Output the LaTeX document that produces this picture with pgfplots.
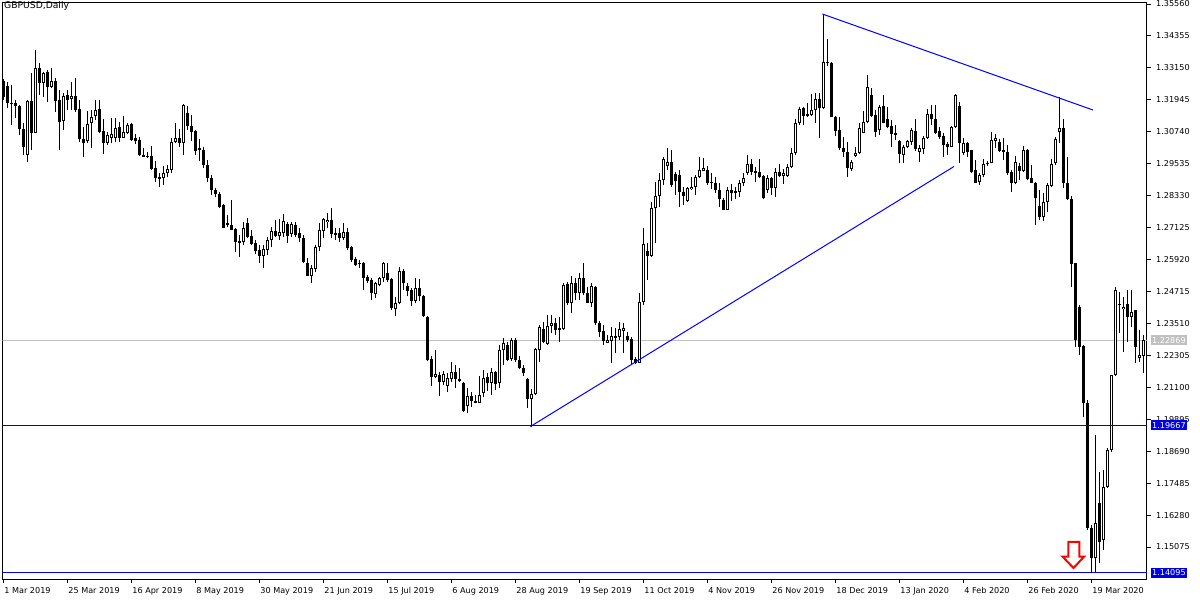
\documentclass[border=0pt]{standalone}
\usepackage{fontspec}
\setmainfont{DejaVu Sans}
\usepackage{pgfplots}
\usepackage{pgfplotstable}
\pgfplotsset{compat=1.18}
\definecolor{mtgray}{RGB}{192,192,192}
\definecolor{mtblue}{RGB}{0,0,230}
\definecolor{trendblue}{RGB}{0,0,255}
\definecolor{arrowred}{RGB}{255,0,0}
\newcommand\lf{\fontsize{8.1}{9.7}\selectfont}
\pgfplotsset{candle/.style={only marks, mark=*, mark size=0pt, mark options={draw=none, fill=none}}}
\pgfplotstableread{
i o h l c
0 1.3266 1.3273 1.3194 1.3205
1 1.3247 1.3262 1.3164 1.3182
2 1.3184 1.3250 1.3100 1.3178
3 1.3184 1.3194 1.3126 1.3171
4 1.3171 1.3175 1.3062 1.3084
5 1.3084 1.3107 1.2986 1.3017
6 1.2986 1.3194 1.2960 1.3190
7 1.3190 1.3296 1.3005 1.3071
8 1.3071 1.3383 1.3069 1.3314
9 1.3316 1.3335 1.3213 1.3259
10 1.3259 1.3301 1.3206 1.3295
11 1.3301 1.3307 1.3188 1.3244
12 1.3244 1.3314 1.3238 1.3267
13 1.3267 1.3276 1.3150 1.3191
14 1.3194 1.3232 1.3005 1.3112
15 1.3115 1.3219 1.3081 1.3209
16 1.3213 1.3232 1.3156 1.3194
17 1.3197 1.3263 1.3156 1.3209
18 1.3209 1.3276 1.3150 1.3156
19 1.3160 1.3194 1.3037 1.3046
20 1.3047 1.3093 1.2978 1.3031
21 1.3039 1.3152 1.3031 1.3102
22 1.3106 1.3156 1.3012 1.3129
23 1.3134 1.3194 1.3118 1.3156
24 1.3160 1.3194 1.3068 1.3074
25 1.3077 1.3121 1.2989 1.3033
26 1.3033 1.3074 1.3024 1.3062
27 1.3049 1.3125 1.3031 1.3066
28 1.3049 1.3125 1.3037 1.3087
29 1.3093 1.3112 1.3037 1.3052
30 1.3052 1.3134 1.3052 1.3072
31 1.3071 1.3106 1.3066 1.3100
32 1.3103 1.3106 1.3040 1.3043
33 1.3049 1.3065 1.3028 1.3040
34 1.3043 1.3053 1.2984 1.2986
35 1.2986 1.3014 1.2979 1.2980
36 1.2984 1.2999 1.2975 1.2978
37 1.2983 1.3020 1.2930 1.2934
38 1.2936 1.2964 1.2886 1.2901
39 1.2902 1.2917 1.2865 1.2896
40 1.2899 1.2945 1.2873 1.2917
41 1.2917 1.2949 1.2904 1.2934
42 1.2930 1.3049 1.2917 1.3034
43 1.3034 1.3106 1.3031 1.3049
44 1.3049 1.3084 1.3018 1.3033
45 1.3033 1.3179 1.2986 1.3175
46 1.3144 1.3171 1.3081 1.3096
47 1.3096 1.3137 1.3040 1.3074
48 1.3078 1.3081 1.2986 1.3003
49 1.3014 1.3046 1.2965 1.3005
50 1.3005 1.3017 1.2937 1.2949
51 1.2949 1.2968 1.2884 1.2900
52 1.2900 1.2911 1.2835 1.2854
53 1.2854 1.2862 1.2827 1.2839
54 1.2841 1.2847 1.2786 1.2791
55 1.2798 1.2802 1.2710 1.2712
56 1.2731 1.2760 1.2716 1.2723
57 1.2722 1.2817 1.2702 1.2703
58 1.2706 1.2711 1.2622 1.2659
59 1.2663 1.2685 1.2603 1.2656
60 1.2659 1.2735 1.2647 1.2710
61 1.2729 1.2748 1.2672 1.2678
62 1.2681 1.2703 1.2647 1.2651
63 1.2653 1.2666 1.2612 1.2624
64 1.2628 1.2647 1.2580 1.2607
65 1.2607 1.2647 1.2559 1.2631
66 1.2628 1.2678 1.2609 1.2666
67 1.2666 1.2714 1.2638 1.2700
68 1.2700 1.2741 1.2678 1.2681
69 1.2682 1.2744 1.2666 1.2695
70 1.2691 1.2764 1.2678 1.2739
71 1.2726 1.2735 1.2653 1.2682
72 1.2687 1.2735 1.2678 1.2726
73 1.2722 1.2735 1.2678 1.2685
74 1.2691 1.2710 1.2659 1.2672
75 1.2672 1.2685 1.2578 1.2584
76 1.2580 1.2598 1.2529 1.2530
77 1.2530 1.2571 1.2505 1.2559
78 1.2556 1.2647 1.2546 1.2638
79 1.2640 1.2731 1.2625 1.2703
80 1.2701 1.2748 1.2672 1.2744
81 1.2733 1.2766 1.2710 1.2741
82 1.2741 1.2785 1.2672 1.2687
83 1.2693 1.2710 1.2666 1.2686
84 1.2693 1.2710 1.2659 1.2672
85 1.2672 1.2729 1.2666 1.2695
86 1.2697 1.2710 1.2628 1.2637
87 1.2640 1.2643 1.2584 1.2590
88 1.2594 1.2603 1.2568 1.2571
89 1.2580 1.2590 1.2559 1.2574
90 1.2578 1.2584 1.2477 1.2521
91 1.2526 1.2533 1.2502 1.2512
92 1.2515 1.2521 1.2439 1.2465
93 1.2461 1.2508 1.2446 1.2502
94 1.2496 1.2527 1.2492 1.2521
95 1.2521 1.2584 1.2508 1.2580
96 1.2542 1.2578 1.2508 1.2515
97 1.2518 1.2521 1.2402 1.2408
98 1.2404 1.2452 1.2379 1.2429
99 1.2427 1.2565 1.2424 1.2549
100 1.2549 1.2555 1.2477 1.2502
101 1.2492 1.2502 1.2454 1.2474
102 1.2477 1.2484 1.2418 1.2437
103 1.2437 1.2521 1.2427 1.2484
104 1.2484 1.2518 1.2437 1.2454
105 1.2454 1.2458 1.2376 1.2379
106 1.2376 1.2379 1.2211 1.2213
107 1.2216 1.2228 1.2115 1.2150
108 1.2150 1.2251 1.2144 1.2159
109 1.2156 1.2169 1.2077 1.2131
110 1.2131 1.2172 1.2119 1.2160
111 1.2116 1.2163 1.2093 1.2144
112 1.2140 1.2207 1.2131 1.2169
113 1.2169 1.2194 1.2107 1.2141
114 1.2141 1.2182 1.2131 1.2133
115 1.2128 1.2131 1.2018 1.2022
116 1.2040 1.2106 1.2014 1.2077
117 1.2077 1.2093 1.2037 1.2058
118 1.2058 1.2081 1.2049 1.2052
119 1.2052 1.2153 1.2049 1.2081
120 1.2088 1.2175 1.2072 1.2144
121 1.2150 1.2163 1.2097 1.2125
122 1.2125 1.2182 1.2081 1.2167
123 1.2167 1.2171 1.2100 1.2122
124 1.2127 1.2270 1.2109 1.2251
125 1.2251 1.2295 1.2194 1.2278
126 1.2270 1.2282 1.2211 1.2213
127 1.2216 1.2295 1.2211 1.2289
128 1.2289 1.2295 1.2207 1.2213
129 1.2213 1.2228 1.2178 1.2182
130 1.2182 1.2194 1.2153 1.2163
131 1.2140 1.2144 1.2031 1.2065
132 1.2065 1.2102 1.1961 1.2083
133 1.2083 1.2257 1.2081 1.2253
134 1.2251 1.2345 1.2207 1.2336
135 1.2329 1.2358 1.2276 1.2282
136 1.2272 1.2383 1.2270 1.2342
137 1.2342 1.2383 1.2314 1.2351
138 1.2351 1.2371 1.2307 1.2326
139 1.2332 1.2377 1.2282 1.2326
140 1.2329 1.2502 1.2326 1.2496
141 1.2500 1.2508 1.2420 1.2427
142 1.2427 1.2530 1.2389 1.2502
143 1.2505 1.2521 1.2439 1.2467
144 1.2467 1.2540 1.2439 1.2521
145 1.2521 1.2580 1.2458 1.2465
146 1.2465 1.2489 1.2427 1.2429
147 1.2429 1.2502 1.2412 1.2492
148 1.2489 1.2492 1.2345 1.2351
149 1.2354 1.2361 1.2301 1.2320
150 1.2324 1.2345 1.2270 1.2286
151 1.2278 1.2308 1.2276 1.2289
152 1.2286 1.2338 1.2203 1.2304
153 1.2297 1.2332 1.2238 1.2304
154 1.2299 1.2358 1.2289 1.2329
155 1.2324 1.2354 1.2238 1.2332
156 1.2304 1.2320 1.2282 1.2289
157 1.2291 1.2301 1.2194 1.2213
158 1.2217 1.2225 1.2198 1.2203
159 1.2203 1.2467 1.2200 1.2433
160 1.2433 1.2710 1.2420 1.2651
161 1.2624 1.2653 1.2515 1.2607
162 1.2607 1.2810 1.2603 1.2785
163 1.2785 1.2886 1.2653 1.2832
164 1.2832 1.2917 1.2791 1.2892
165 1.2892 1.2980 1.2873 1.2971
166 1.2946 1.3012 1.2930 1.2959
167 1.2959 1.3005 1.2867 1.2873
168 1.2914 1.2924 1.2835 1.2889
169 1.2911 1.2930 1.2791 1.2848
170 1.2848 1.2867 1.2798 1.2833
171 1.2813 1.2867 1.2810 1.2861
172 1.2858 1.2904 1.2854 1.2867
173 1.2864 1.2911 1.2835 1.2902
174 1.2902 1.2980 1.2899 1.2930
175 1.2927 1.2974 1.2926 1.2936
176 1.2930 1.2945 1.2873 1.2880
177 1.2886 1.2917 1.2857 1.2880
178 1.2882 1.2904 1.2842 1.2854
179 1.2854 1.2880 1.2791 1.2819
180 1.2817 1.2823 1.2777 1.2779
181 1.2779 1.2865 1.2777 1.2854
182 1.2854 1.2877 1.2814 1.2844
183 1.2851 1.2865 1.2819 1.2844
184 1.2848 1.2892 1.2827 1.2882
185 1.2880 1.2920 1.2870 1.2899
186 1.2920 1.2986 1.2911 1.2952
187 1.2952 1.2970 1.2911 1.2923
188 1.2927 1.2940 1.2886 1.2920
189 1.2923 1.2970 1.2899 1.2904
190 1.2907 1.2911 1.2819 1.2823
191 1.2854 1.2911 1.2842 1.2899
192 1.2899 1.2904 1.2835 1.2863
193 1.2863 1.2936 1.2827 1.2921
194 1.2921 1.2952 1.2904 1.2907
195 1.2908 1.2932 1.2877 1.2917
196 1.2908 1.2951 1.2904 1.2940
197 1.2940 1.3014 1.2939 1.2993
198 1.2993 1.3121 1.2986 1.3106
199 1.3106 1.3169 1.3100 1.3159
200 1.3162 1.3169 1.3100 1.3134
201 1.3141 1.3181 1.3131 1.3134
202 1.3137 1.3215 1.3134 1.3156
203 1.3156 1.3219 1.3106 1.3198
204 1.3198 1.3219 1.3049 1.3162
205 1.3162 1.3518 1.3160 1.3338
206 1.3338 1.3423 1.3323 1.3332
207 1.3335 1.3338 1.3128 1.3131
208 1.3131 1.3134 1.3058 1.3078
209 1.3081 1.3131 1.3005 1.3012
210 1.3014 1.3056 1.2980 1.2999
211 1.2996 1.3037 1.2904 1.2936
212 1.2932 1.2968 1.2927 1.2959
213 1.2984 1.3018 1.2980 1.2993
214 1.2993 1.3106 1.2990 1.3087
215 1.3071 1.3152 1.3068 1.3112
216 1.3112 1.3288 1.3106 1.3244
217 1.3213 1.3238 1.3131 1.3134
218 1.3137 1.3156 1.3056 1.3074
219 1.3081 1.3175 1.3062 1.3169
220 1.3171 1.3213 1.3106 1.3108
221 1.3122 1.3169 1.3087 1.3093
222 1.3096 1.3118 1.3015 1.3066
223 1.3071 1.3100 1.3043 1.3063
224 1.3039 1.3043 1.2955 1.2989
225 1.2986 1.3024 1.2955 1.3015
226 1.3015 1.3043 1.3012 1.3039
227 1.3037 1.3087 1.3024 1.3081
228 1.3078 1.3121 1.3003 1.3009
229 1.2999 1.3024 1.2961 1.3012
230 1.3009 1.3058 1.2990 1.3049
231 1.3049 1.3159 1.3047 1.3141
232 1.3141 1.3175 1.3100 1.3121
233 1.3121 1.3175 1.3065 1.3071
234 1.3077 1.3093 1.3046 1.3056
235 1.3058 1.3071 1.2978 1.3024
236 1.3027 1.3037 1.2986 1.3018
237 1.3018 1.3096 1.3015 1.3091
238 1.3091 1.3215 1.3087 1.3213
239 1.3171 1.3187 1.2957 1.3031
240 1.2995 1.3049 1.2986 1.3033
241 1.3033 1.3037 1.2980 1.2999
242 1.3005 1.3006 1.2920 1.2923
243 1.2930 1.2968 1.2881 1.2882
244 1.2886 1.2920 1.2872 1.2911
245 1.2911 1.2971 1.2904 1.2951
246 1.2951 1.2965 1.2946 1.2957
247 1.2957 1.3074 1.2955 1.3043
248 1.3040 1.3065 1.3012 1.3049
249 1.3037 1.3046 1.2999 1.3003
250 1.3005 1.3049 1.2968 1.2996
251 1.2999 1.3024 1.2911 1.2920
252 1.2923 1.2930 1.2848 1.2880
253 1.2880 1.2983 1.2876 1.2961
254 1.2945 1.2955 1.2892 1.2927
255 1.2927 1.3020 1.2923 1.3005
256 1.3005 1.3008 1.2892 1.2895
257 1.2899 1.2949 1.2880 1.2882
258 1.2882 1.2886 1.2722 1.2823
259 1.2794 1.2854 1.2741 1.2754
260 1.2751 1.2842 1.2739 1.2810
261 1.2810 1.2880 1.2772 1.2873
262 1.2870 1.2971 1.2867 1.2952
263 1.2955 1.3056 1.2949 1.3046
264 1.3074 1.3204 1.3033 1.3087
265 1.3087 1.3121 1.2861 1.2882
266 1.2882 1.2980 1.2817 1.2819
267 1.2819 1.2832 1.2489 1.2575
268 1.2578 1.2580 1.2263 1.2289
269 1.2414 1.2420 1.2232 1.2263
270 1.2266 1.2270 1.1999 1.2052
271 1.2052 1.2062 1.1572 1.1578
272 1.1578 1.1591 1.1415 1.1465
273 1.1465 1.1930 1.14095 1.1597
274 1.1672 1.1792 1.1446 1.1528
275 1.1534 1.1798 1.1496 1.1735
276 1.1735 1.1880 1.1730 1.1874
277 1.1874 1.2158 1.1867 1.2156
278 1.2156 1.2489 1.2152 1.2477
279 1.2421 1.2471 1.2314 1.2420
280 1.2404 1.2452 1.2244 1.2414
281 1.2423 1.2477 1.2282 1.2376
282 1.2376 1.2477 1.2339 1.2394
283 1.2400 1.2402 1.2200 1.2263
284 1.2219 1.2326 1.2207 1.2232
285 1.2228 1.2307 1.2163 1.22869
}\candles
\begin{document}
\begin{tikzpicture}
\fill[white] (0,0) rectangle (1200pt,600pt);
\useasboundingbox (0,0) rectangle (1200pt,600pt);
\begin{axis}[
  at={(2.5pt,21pt)}, anchor=south west,
  scale only axis, width=1144.5pt, height=576.5pt,
  xmin=-0.175, xmax=285.95, ymin=1.13868, ymax=1.35617,
  axis line style={black, line width=1pt},
  clip mode=individual,
  tick align=outside, major tick length=4pt,
  tick style={black, line width=1pt},
  xtick pos=left, ytick pos=right, yticklabel pos=right,
  xtick={0,16,...,272},
  xticklabels={1 Mar 2019,25 Mar 2019,16 Apr 2019,8 May 2019,30 May 2019,21 Jun 2019,15 Jul 2019,6 Aug 2019,28 Aug 2019,19 Sep 2019,11 Oct 2019,4 Nov 2019,26 Nov 2019,18 Dec 2019,13 Jan 2020,4 Feb 2020,26 Feb 2020,19 Mar 2020},
  xticklabel style={anchor=north west, inner sep=0pt, xshift=1pt, yshift=-4.5pt, font=\lf},
  ytick={1.15075,1.16280,1.17485,1.18690,1.19895,1.21100,1.22305,1.23510,1.24715,1.25920,1.27125,1.28330,1.29535,1.30740,1.31945,1.33150,1.34355,1.35560},
  yticklabels={1.15075,1.16280,1.17485,1.18690,1.19895,1.21100,1.22305,1.23510,1.24715,1.25920,1.27125,1.28330,1.29535,1.30740,1.31945,1.33150,1.34355,1.35560},
  yticklabel style={anchor=west, inner sep=0pt, xshift=5pt, font=\lf},
]
\addplot[mtgray, line width=1pt] coordinates {(-1,1.22869) (290,1.22869)};
\addplot[candle, error bars/.cd, y dir=plus, y explicit, error mark=none, error bar style={black, line width=1pt}]
  table[x=i, y=l, y error expr=\thisrow{h}-\thisrow{l}] {\candles};
\addplot[candle, error bars/.cd, y dir=plus, y explicit, error mark=none, error bar style={black, line width=3pt}]
  table[x=i, y expr={min(\thisrow{o},\thisrow{c})}, y error expr={max(abs(\thisrow{c}-\thisrow{o}),0.00038)}] {\candles};
\addplot[candle, restrict expr to domain={\thisrow{c}-\thisrow{o}}{0.0008:1}, error bars/.cd, y dir=plus, y explicit, error mark=none, error bar style={white, line width=1pt}]
  table[x=i, y expr={\thisrow{o}+0.00038}, y error expr={\thisrow{c}-\thisrow{o}-0.00076}] {\candles};
\addplot[mtblue, line width=1pt] coordinates {(-1,1.19667) (290,1.19667)};
\addplot[mtblue, line width=1pt] coordinates {(-1,1.14095) (290,1.14095)};
\addplot[trendblue, line width=1pt] coordinates {(131.8,1.19621) (237.7,1.29430)};
\addplot[trendblue, line width=1pt] coordinates {(204.8,1.35183) (272.45,1.31561)};
\coordinate (g1) at (axis cs:285.95,1.22869);
\coordinate (b1) at (axis cs:285.95,1.19667);
\coordinate (b2) at (axis cs:285.95,1.14095);
\end{axis}
\node[fill=mtgray, text=white, anchor=west, inner xsep=1.5pt, inner ysep=2pt, font=\lf] at ([xshift=3.5pt]g1) {1.22869};
\node[fill=mtblue, text=white, anchor=west, inner xsep=1.5pt, inner ysep=2pt, font=\lf] at ([xshift=3.5pt]b1) {1.19667};
\node[fill=mtblue, text=white, anchor=west, inner xsep=1.5pt, inner ysep=2pt, font=\lf] at ([xshift=3.5pt]b2) {1.14095};
\draw[arrowred, line width=2pt, fill=white, line join=miter] (1068.3pt,58pt) -- (1079.3pt,58pt) -- (1079.3pt,43.3pt) -- (1084pt,43.3pt) -- (1073.5pt,32pt) -- (1062.7pt,43.3pt) -- (1068.3pt,43.3pt) -- cycle;
\node[anchor=west, inner sep=0pt, font=\fontsize{9.2}{11}\selectfont] at (4pt,594.5pt) {GBPUSD,Daily};
\end{tikzpicture}
\end{document}
